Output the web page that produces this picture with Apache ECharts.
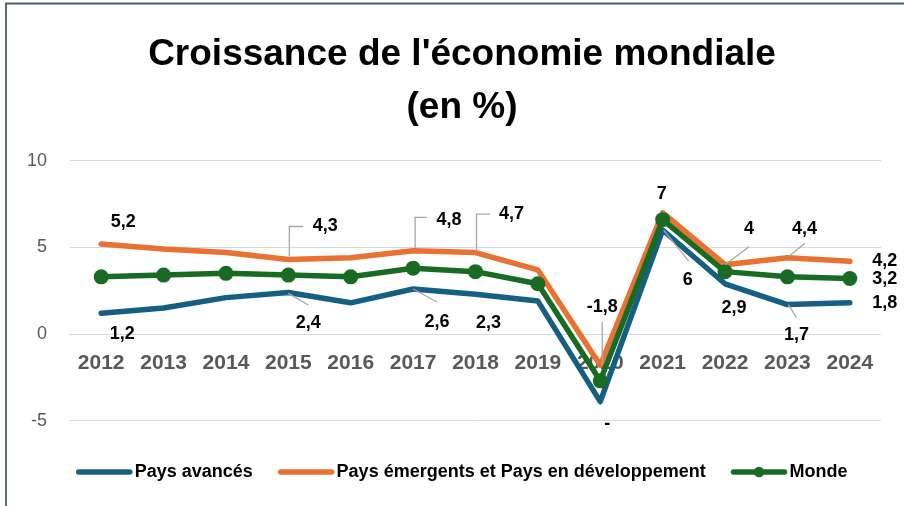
<!DOCTYPE html>
<html>
<head>
<meta charset="utf-8">
<script src="https://cdn.jsdelivr.net/npm/echarts@6/dist/echarts.min.js"></script>
<style>
html,body{margin:0;padding:0;background:#fff;}
#chart{width:904px;height:506px;}
</style>
</head>
<body>
<div id="chart"></div>
<script>
// ---- Data ----
const years = ['2012','2013','2014','2015','2016','2017','2018','2019','2020','2021','2022','2023','2024'];
const paysAvances = [1.2, 1.5, 2.1, 2.4, 1.8, 2.6, 2.3, 1.9, -3.9, 6.0, 2.9, 1.7, 1.8];
const paysEmergents = [5.2, 4.9, 4.7, 4.3, 4.4, 4.8, 4.7, 3.7, -1.8, 7.0, 4.0, 4.4, 4.2];
const monde = [3.3, 3.4, 3.5, 3.4, 3.3, 3.8, 3.6, 2.9, -2.7, 6.6, 3.6, 3.3, 3.2];
const yTicks = [-5, 0, 5, 10];
const seriesNames = ['Pays avancés', 'Pays émergents et Pays en développement', 'Monde'];

// ---- Label placement (pixel offsets from the data point) ----
const labelSpec = {
  emergents: {0:{off:[22,-22]}, 3:{off:[37,-33]}, 5:{off:[36,-31]}, 6:{off:[36,-39]}, 8:{off:[2,-58.5]},
              9:{off:[-1,-19]}, 10:{off:[24,-36]}, 11:{off:[17,-29]}, 12:{right:22}},
  avances:   {0:{off:[21,20.5]}, 3:{off:[20,31]}, 5:{off:[24,33]}, 6:{off:[13,29]}, 8:{off:[7,22], text:'-'},
              9:{off:[25,50]}, 10:{off:[9,24.6]}, 11:{off:[9,30.5]}, 12:{right:22}},
  monde:     {12:{right:15}}
};
const leaders = [
  {s:'emergents', i:3,  pts:[[1,-3],[1,-33],[15,-33]]},
  {s:'emergents', i:5,  pts:[[2,-3],[2,-33.5],[13.5,-33.5]]},
  {s:'emergents', i:6,  pts:[[1,-3],[1,-38.5],[14.5,-38.5]]},
  {s:'emergents', i:8,  pts:[[2,0],[2,-43.5]]},
  {s:'emergents', i:10, pts:[[0,0],[24,-18]]},
  {s:'emergents', i:11, pts:[[1,-1],[17.5,-14.5]]},
  {s:'avances',   i:3,  pts:[[0,1],[20,12.6]]},
  {s:'avances',   i:5,  pts:[[0,0],[24,13]]},
  {s:'avances',   i:9,  pts:[[1,0],[26,31]]},
  {s:'avances',   i:11, pts:[[1,0],[9,13]]}
];
const valuesByKey = {avances: paysAvances, emergents: paysEmergents, monde: monde};

const COLORS = {avances:'#156082', emergents:'#E97132', monde:'#196B24'};
const LABEL_FONT = "'Liberation Sans', Arial, sans-serif";

const GRID = {left: 70, right: 23, top: 160.7, bottom: 85.3};
const gridHeight = 506 - GRID.top - GRID.bottom;
const yMin = yTicks[0], yMax = yTicks[yTicks.length - 1];
const zeroOffset = -gridHeight * (0 - yMin) / (yMax - yMin);

function fmt(v){ return String(v).replace('.', ','); }

function buildData(key){
  const spec = labelSpec[key] || {};
  return valuesByKey[key].map((v, i) => {
    const s = spec[i];
    if (!s) return {value: v};
    const lab = {show: true};
    if (s.right != null) { lab.position = 'right'; lab.distance = s.right; }
    else { lab.position = 'inside'; lab.offset = s.off; }
    if (s.text) lab.formatter = s.text;
    return {value: v, label: lab};
  });
}

function lineSeries(name, key, withMarker){
  return {
    name: name,
    type: 'line',
    data: buildData(key),
    symbol: 'circle',
    symbolSize: withMarker ? 15 : 1,
    showSymbol: true,
    itemStyle: {color: COLORS[key]},
    lineStyle: {color: COLORS[key], width: 5.5, cap: 'round', join: 'round'},
    label: {
      show: false,
      position: 'inside',
      fontFamily: LABEL_FONT,
      fontSize: 18,
      fontWeight: 'bold',
      color: '#000',
      formatter: p => fmt(p.value)
    },
    emphasis: {disabled: true},
    animation: false
  };
}

const chart = echarts.init(document.getElementById('chart'), null, {renderer: 'canvas'});
const option = {
  backgroundColor: '#ffffff',
  animation: false,
  title: {
    text: "Croissance de l'économie mondiale\n(en %)",
    left: 457,
    top: 23,
    textAlign: 'center',
    textStyle: {fontFamily: LABEL_FONT, fontSize: 37, fontWeight: 'bold', color: '#000', lineHeight: 53}
  },
  graphic: [{
    type: 'rect', silent: true, z: 100,
    shape: {x: 6, y: 3.5, width: 1200, height: 1200},
    style: {fill: 'none', stroke: '#4a5d75', lineWidth: 1.8}
  }],
  legend: {
    data: [
      {name: seriesNames[0], itemStyle: {opacity: 0}},
      {name: seriesNames[1], itemStyle: {opacity: 0}},
      {name: seriesNames[2]}
    ],
    left: 76,
    top: 463,
    padding: 0,
    itemWidth: 51,
    itemHeight: 13,
    itemGap: 25,
    lineStyle: {width: 5.5, cap: 'round'},
    textStyle: {fontFamily: LABEL_FONT, fontSize: 18, fontWeight: 'bold', color: '#000'}
  },
  grid: {left: GRID.left, right: GRID.right, top: GRID.top, bottom: GRID.bottom, containLabel: false},
  xAxis: {
    type: 'category',
    data: years,
    boundaryGap: true,
    offset: zeroOffset,
    axisTick: {show: false},
    axisLine: {show: true, onZero: false, lineStyle: {color: '#d9d9d9', width: 1}},
    axisLabel: {fontFamily: LABEL_FONT, fontSize: 21, fontWeight: 'bold', color: '#595959', margin: 19}
  },
  yAxis: {
    type: 'value',
    min: yMin,
    max: yMax,
    interval: yTicks[1] - yTicks[0],
    axisLine: {show: false},
    axisTick: {show: false},
    splitLine: {lineStyle: {color: '#d9d9d9', width: 1}},
    axisLabel: {fontFamily: LABEL_FONT, fontSize: 18, color: '#595959', margin: 23}
  },
  series: [
    lineSeries(seriesNames[0], 'avances', false),
    lineSeries(seriesNames[1], 'emergents', false),
    lineSeries(seriesNames[2], 'monde', true),
    {
      name: 'leaders',
      type: 'custom',
      z: 5,
      silent: true,
      animation: false,
      encode: {x: 0, y: 1},
      data: leaders.map((l, k) => [l.i, valuesByKey[l.s][l.i], k]),
      renderItem: function(params, api){
        const k = api.value(2);
        const p = api.coord([api.value(0), api.value(1)]);
        const pts = leaders[k].pts.map(d => [p[0] + d[0], p[1] + d[1]]);
        return {type: 'polyline', shape: {points: pts}, style: {stroke: '#a6a6a6', lineWidth: 1.3, fill: 'none'}};
      }
    }
  ]
};
chart.setOption(option);
</script>
</body>
</html>
